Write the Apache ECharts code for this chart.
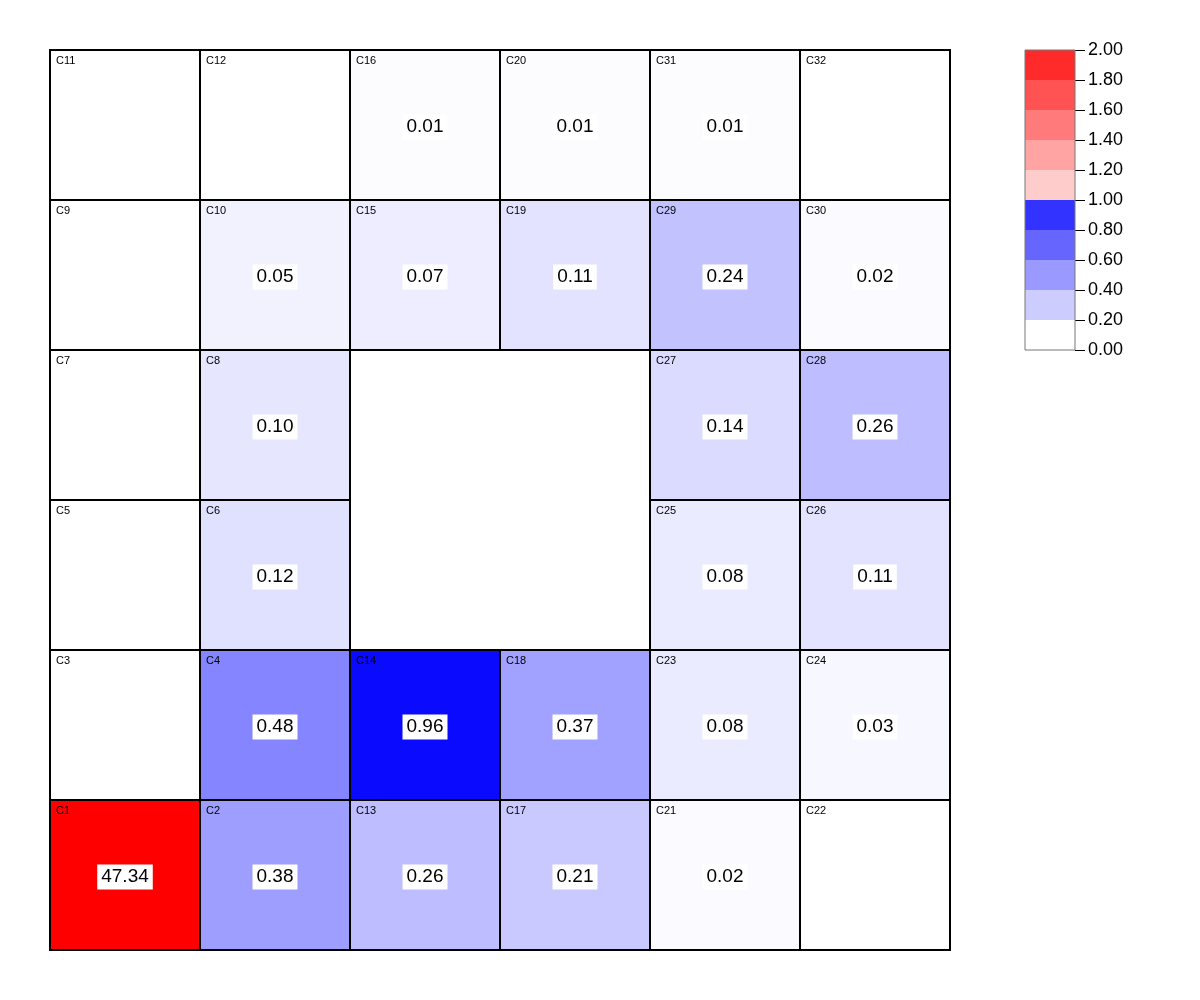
<!DOCTYPE html>
<html><head><meta charset="utf-8">
<script src="https://cdn.jsdelivr.net/npm/echarts@6/dist/echarts.min.js"></script>
<style>html,body{margin:0;padding:0;background:#fff}#c{width:1200px;height:1000px}</style>
</head><body><div id="c"></div>
<script>
// rows listed top to bottom, columns left to right; null = no cell
var cellNames = [
  ['C11','C12','C16','C20','C31','C32'],
  ['C9','C10','C15','C19','C29','C30'],
  ['C7','C8',null,null,'C27','C28'],
  ['C5','C6',null,null,'C25','C26'],
  ['C3','C4','C14','C18','C23','C24'],
  ['C1','C2','C13','C17','C21','C22']
];
var cellValues = [
  [null,null,0.01,0.01,0.01,null],
  [null,0.05,0.07,0.11,0.24,0.02],
  [null,0.10,null,null,0.14,0.26],
  [null,0.12,null,null,0.08,0.11],
  [null,0.48,0.96,0.37,0.08,0.03],
  [47.34,0.38,0.26,0.21,0.02,null]
];
var legendTicks = [0,0.2,0.4,0.6,0.8,1.0,1.2,1.4,1.6,1.8,2.0];
var legendColors = ['#ffffff','#ccccff','#9999ff','#6666ff','#3333ff','#ffcccc','#ffa3a3','#ff7a7a','#ff5252','#ff2b2b'];

function colorOf(v){
  if (v == null) return '#ffffff';
  if (v <= 1) { var c = Math.round(255*(1-Math.max(0,v))); return 'rgb('+c+','+c+',255)'; }
  var t = Math.min(1, v-1); var g = Math.round(204*(1-t)); return 'rgb(255,'+g+','+g+')';
}

var cols = ['0','1','2','3','4','5'];
var rows = ['0','1','2','3','4','5'];
var data = [];
cellNames.forEach(function(r, ri){
  r.forEach(function(n, ci){
    if (n !== null) data.push([ci, ri, cellValues[ri][ci], n]);
  });
});
var bands = [];
for (var i = 0; i < legendColors.length; i++) bands.push([0, legendTicks[i], legendTicks[i+1], legendColors[i]]);

var FONT = 'Liberation Sans, Arial, sans-serif';
var chart = echarts.init(document.getElementById('c'));
chart.setOption({
  animation: false,
  grid: [
    {left: 50, top: 50, width: 900, height: 900},
    {left: 1025, top: 50, width: 50, height: 300, show: true, borderColor: '#777777', borderWidth: 1, backgroundColor: 'transparent', z: 3}
  ],
  xAxis: [
    {gridIndex: 0, type: 'category', data: cols, show: false},
    {gridIndex: 1, type: 'category', data: ['a'], show: false}
  ],
  yAxis: [
    {gridIndex: 0, type: 'category', data: rows, inverse: true, show: false},
    {gridIndex: 1, type: 'value', min: 0, max: 2, interval: 0.2, position: 'right',
     axisLine: {show: false}, splitLine: {show: false},
     axisTick: {show: true, length: 10, lineStyle: {color: '#000', width: 1}},
     axisLabel: {color: '#000', fontSize: 18, fontFamily: FONT, margin: 13,
       formatter: function(v){ return v.toFixed(2); }}}
  ],
  series: [
    {
      type: 'custom', xAxisIndex: 0, yAxisIndex: 0, data: data,
      renderItem: function(params, api){
        var c = api.coord([api.value(0), api.value(1)]);
        var s = api.size([1,1]);
        var d = data[params.dataIndex];
        var v = d[2];
        var x0 = c[0]-s[0]/2, y0 = c[1]-s[1]/2;
        var children = [
          {type: 'rect', shape: {x: x0, y: y0, width: s[0], height: s[1]},
           style: {fill: colorOf(v), stroke: '#000', lineWidth: 2}},
          {type: 'text', x: x0+6, y: y0+5,
           style: {text: d[3], fill: '#000', fontSize: 11, fontFamily: FONT, align: 'left', verticalAlign: 'top'}}
        ];
        if (v != null) {
          children.push({type: 'text', x: c[0], y: c[1]+2,
            style: {text: v.toFixed(2), fill: '#000', fontSize: 19, fontFamily: FONT,
              align: 'center', verticalAlign: 'middle', backgroundColor: '#fff', padding: [3,4,3,4]}});
        }
        return {type: 'group', children: children};
      }
    },
    {
      type: 'custom', xAxisIndex: 1, yAxisIndex: 1, data: bands, z: 1,
      renderItem: function(params, api){
        var p1 = api.coord([0, api.value(1)]);
        var p2 = api.coord([0, api.value(2)]);
        var w = api.size([1, 0])[0];
        var b = bands[params.dataIndex];
        return {type: 'rect', shape: {x: p1[0]-w/2, y: p2[1], width: w, height: p1[1]-p2[1]},
          style: {fill: b[3]}};
      }
    }
  ]
});
</script></body></html>
